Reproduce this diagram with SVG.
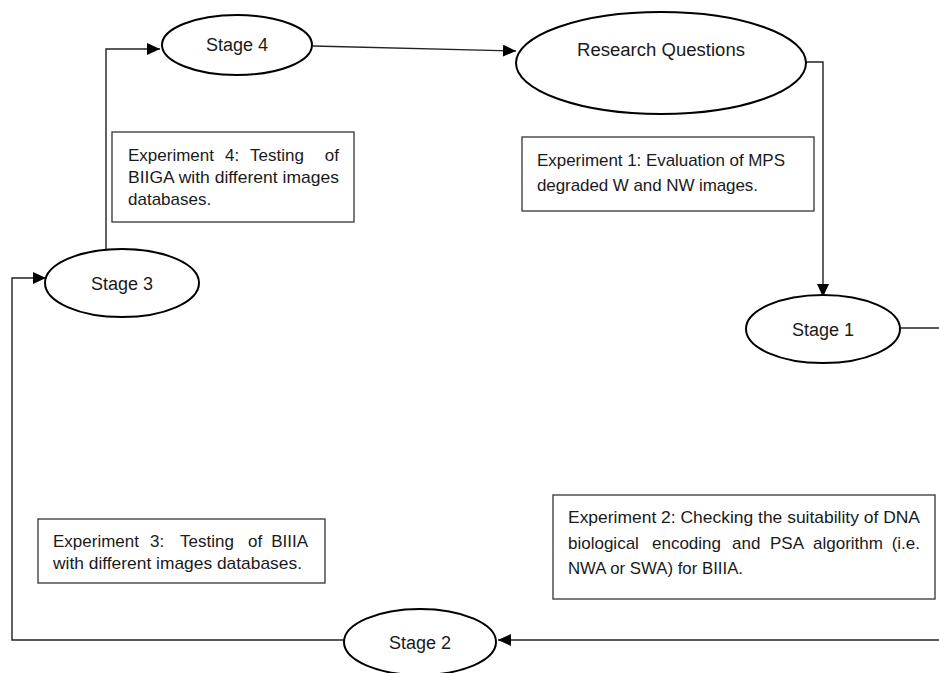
<svg xmlns="http://www.w3.org/2000/svg" width="939" height="673" viewBox="0 0 939 673">
<style>
.node{fill:#fff;stroke:#000;stroke-width:2}
.box{fill:#fff;stroke:#333;stroke-width:1.3}
.lbl{font-family:"Liberation Sans",Arial,sans-serif;font-size:18px;fill:#1a1a1a;text-anchor:middle}
.txt{font-family:"Liberation Sans",Arial,sans-serif;font-size:17px;fill:#1a1a1a}
.end{text-anchor:end}
.con{fill:none;stroke:#222;stroke-width:1.4}
</style>
<defs>
<marker id="arr" markerUnits="userSpaceOnUse" markerWidth="14" markerHeight="12" refX="13" refY="6" orient="auto">
<path d="M0,0 L13,6 L0,12 z" fill="#000"/>
</marker>
</defs>
<rect width="939" height="673" fill="#fff"/>
<g id="connectors">
<polyline class="con" points="106,250 106,49 160,49" marker-end="url(#arr)"/>
<line class="con" x1="313" y1="46" x2="516" y2="51" marker-end="url(#arr)"/>
<polyline class="con" points="806,62 823,62 823,297" marker-end="url(#arr)"/>
<line class="con" x1="900" y1="328" x2="939" y2="328"/>
<line class="con" x1="939" y1="640" x2="498" y2="640" marker-end="url(#arr)"/>
<polyline class="con" points="344,640 12,640 12,278 46,278" marker-end="url(#arr)"/>
</g>
<g id="stage4">
<ellipse class="node" cx="237" cy="45" rx="75" ry="30"/>
<text class="lbl" x="237" y="51">Stage 4</text>
</g>
<g id="research-questions">
<ellipse class="node" cx="661" cy="63" rx="145" ry="51"/>
<text class="lbl" x="661" y="56" textLength="168" lengthAdjust="spacingAndGlyphs">Research Questions</text>
</g>
<g id="stage1">
<ellipse class="node" cx="823" cy="329" rx="77" ry="34"/>
<text class="lbl" x="823" y="336">Stage 1</text>
</g>
<g id="stage3">
<ellipse class="node" cx="122" cy="283" rx="77" ry="34"/>
<text class="lbl" x="122" y="290">Stage 3</text>
</g>
<g id="stage2">
<ellipse class="node" cx="420" cy="642" rx="76" ry="33"/>
<text class="lbl" x="420" y="649">Stage 2</text>
</g>
<g id="exp1">
<rect class="box" x="522" y="137" width="292" height="74"/>
<text class="txt" x="537" y="166" textLength="248" lengthAdjust="spacing">Experiment 1: Evaluation of MPS</text>
<text class="txt" x="537" y="191" textLength="221" lengthAdjust="spacing">degraded W and NW images.</text>
</g>
<g id="exp4">
<rect class="box" x="112" y="132" width="242" height="90"/>
<text class="txt" y="161"><tspan x="128">Experiment</tspan><tspan x="225">4:</tspan><tspan x="250">Testing</tspan><tspan class="end" x="339">of</tspan></text>
<text class="txt" x="128" y="183" textLength="211" lengthAdjust="spacingAndGlyphs">BIIGA with different images</text>
<text class="txt" x="128" y="205">databases.</text>
</g>
<g id="exp3">
<rect class="box" x="38" y="519" width="287" height="64"/>
<text class="txt" y="547"><tspan x="53">Experiment</tspan><tspan x="150">3:</tspan><tspan x="180">Testing</tspan><tspan x="248">of</tspan><tspan class="end" x="308">BIIIA</tspan></text>
<text class="txt" x="53" y="569" textLength="249" lengthAdjust="spacingAndGlyphs">with different images databases.</text>
</g>
<g id="exp2">
<rect class="box" x="553" y="495" width="382" height="104"/>
<text class="txt" x="568" y="523" textLength="352" lengthAdjust="spacingAndGlyphs">Experiment 2: Checking the suitability of DNA</text>
<text class="txt" y="549"><tspan x="568">biological</tspan><tspan x="652">encoding</tspan><tspan x="732">and</tspan><tspan x="770">PSA</tspan><tspan x="813">algorithm</tspan><tspan class="end" x="920">(i.e.</tspan></text>
<text class="txt" x="568" y="574" textLength="175" lengthAdjust="spacingAndGlyphs">NWA or SWA) for BIIIA.</text>
</g>
</svg>
